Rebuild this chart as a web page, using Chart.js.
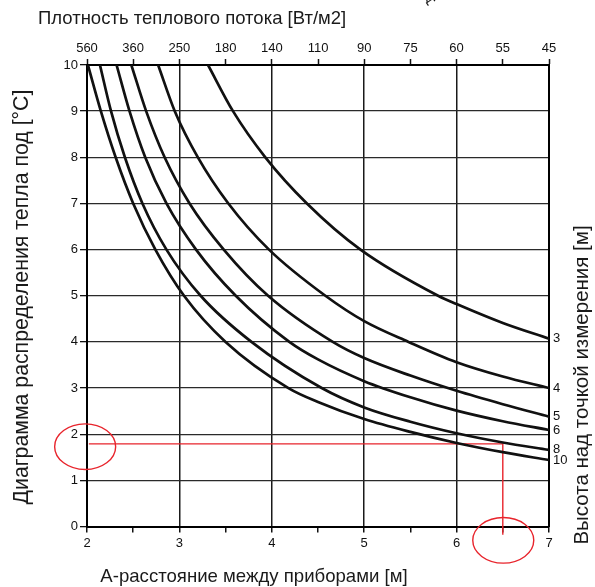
<!DOCTYPE html>
<html>
<head>
<meta charset="utf-8">
<script src="https://cdn.jsdelivr.net/npm/chart.js@4.4.1/dist/chart.umd.min.js"></script>
<style>
html,body{margin:0;padding:0;background:#fff;}
#wrap{width:595px;height:587px;position:relative;}
</style>
</head>
<body>
<div id="wrap"><canvas id="c" width="595" height="587"></canvas></div>
<script>
// ---- data ----
const heightLabels = ['3', '4', '5', '6', '8', '10'];   // height above measuring point [m]
const curve3  = [[3.31,10],[3.58,9],[3.93,8],[4.38,7],[4.96,6],[5.8,5],[6,4.82],[6.5,4.41],[7,4.07]];
const curve4  = [[2.77,10],[2.95,9],[3.20,8],[3.53,7],[3.97,6],[4.58,5],[5,4.45],[5.48,4],[6,3.56],[6.5,3.25],[7,3.00]];
const curve5  = [[2.48,10],[2.64,9],[2.84,8],[3.11,7],[3.48,6],[3.96,5],[4.66,4],[5,3.65],[5.5,3.27],[6,2.94],[6.5,2.65],[7,2.38]];
const curve6  = [[2.32,10],[2.46,9],[2.63,8],[2.86,7],[3.18,6],[3.61,5],[4.19,4],[4.5,3.62],[5,3.15],[5.5,2.80],[6,2.51],[6.5,2.28],[7,2.09]];
const curve8  = [[2.14,10],[2.26,9],[2.41,8],[2.60,7],[2.86,6],[3.23,5],[3.78,4],[4.54,3],[5,2.58],[5.5,2.27],[6,2.02],[6.5,1.82],[7,1.66]];
const curve10 = [[2.01,10],[2.15,9],[2.31,8],[2.50,7],[2.74,6],[3.05,5],[3.50,4],[4.18,3],[4.5,2.70],[5,2.33],[5.5,2.05],[6,1.81],[6.5,1.61],[7,1.44]];
const distanceTicks = [2, 2.5, 3, 3.5, 4, 4.5, 5, 5.5, 6, 6.5, 7];     // A [m]
const fluxLabels = ['560','360','250','180','140','110','90','75','60','55','45']; // W/m2 at the same positions
const readingLine = [[2.02,1.79],[6.5,1.79],[6.5,-0.18]];
const readingMarks = [[1.98,1.73],[6.505,-0.30]];

const curves = [curve3, curve4, curve5, curve6, curve8, curve10];
const endValues = curves.map(c => c[c.length - 1][1]);

Chart.defaults.font.family = "'Liberation Sans', Arial, Helvetica, sans-serif";
Chart.defaults.color = '#111';

const toXY = arr => arr.map(p => ({x: p[0], y: p[1]}));

const datasets = curves.map((c, i) => ({
  label: heightLabels[i],
  data: toXY(c),
  borderColor: '#111',
  borderWidth: 2.7,
  pointRadius: 0,
  fill: false,
  cubicInterpolationMode: 'monotone'
}));
datasets.push({
  label: 'reading',
  data: toXY(readingLine),
  borderColor: '#e8242c',
  borderWidth: 1.4,
  pointRadius: 0,
  tension: 0,
  fill: false,
  clip: false
});

const FONT = "'Liberation Sans', Arial, sans-serif";
const textPlugin = {
  id: 'texts',
  afterDatasetsDraw(chart) {
    const ctx = chart.ctx;
    const xs = chart.scales.x, ys = chart.scales.y;
    ctx.save();
    ctx.strokeStyle = '#e8242c';
    ctx.lineWidth = 1.4;
    readingMarks.forEach(m => {
      ctx.beginPath();
      ctx.ellipse(xs.getPixelForValue(m[0]), ys.getPixelForValue(m[1]), 30.5, 22.8, 0, 0, Math.PI * 2);
      ctx.stroke();
    });
    ctx.restore();
  },
  afterDraw(chart) {
    const ctx = chart.ctx;
    ctx.save();
    ctx.fillStyle = '#1a1a1a';
    ctx.textBaseline = 'middle';
    // top title
    ctx.font = "18.5px " + FONT;
    ctx.textAlign = 'left';
    ctx.fillText('Плотность теплового потока [Вт/м2]', 38, 19);
    // bottom title
    ctx.font = "18.6px " + FONT;
    ctx.textAlign = 'center';
    ctx.fillText('А-расстояние между приборами [м]', 254, 577);
    // left title
    ctx.save();
    ctx.translate(22, 297);
    ctx.rotate(-Math.PI / 2);
    ctx.font = "21.3px " + FONT;
    ctx.textAlign = 'center';
    ctx.fillText('Диаграмма распределения тепла под [°C]', 0, 0);
    ctx.restore();
    // right title
    ctx.save();
    ctx.translate(582, 385);
    ctx.rotate(-Math.PI / 2);
    ctx.font = "20.5px " + FONT;
    ctx.textAlign = 'center';
    ctx.fillText('Высота над точкой измерения [м]', 0, 0);
    ctx.restore();
    // partial glyph at top edge
    ctx.save();
    ctx.translate(428, -2);
    ctx.rotate(-0.6);
    ctx.font = "14px " + FONT;
    ctx.textAlign = 'center';
    ctx.fillText('Д', 0, 0);
    ctx.restore();
    ctx.restore();
  }
};

const halfTicks = scale => { scale.ticks = distanceTicks.map(v => ({value: v})); };

new Chart(document.getElementById('c'), {
  type: 'line',
  data: { datasets },
  options: {
    responsive: false,
    animation: false,
    events: [],
    layout: { padding: 0 },
    plugins: { legend: { display: false }, tooltip: { enabled: false } },
    scales: {
      x: {
        type: 'linear', position: 'bottom', min: 2, max: 7,
        afterBuildTicks: halfTicks,
        afterFit: s => { s.height = 60.5; },
        ticks: {
          autoSkip: false, maxRotation: 0, padding: 3,
          font: { size: 13 }, color: '#111',
          callback: v => Number.isInteger(v) ? String(v) : ''
        },
        grid: {
          color: c => (c.tick && Number.isInteger(c.tick.value)) ? '#1a1a1a' : 'rgba(0,0,0,0)',
          tickColor: '#111', lineWidth: 1.5, tickLength: 6, tickWidth: 1.5
        },
        border: { display: true, color: '#000', width: 2 }
      },
      x2: {
        type: 'linear', position: 'top', min: 2, max: 7,
        afterBuildTicks: halfTicks,
        afterFit: s => { s.height = 65; },
        ticks: {
          autoSkip: false, maxRotation: 0, padding: 3,
          font: { size: 13 }, color: '#111',
          callback: v => fluxLabels[distanceTicks.indexOf(v)]
        },
        grid: { drawOnChartArea: false, tickColor: '#111', tickLength: 6, tickWidth: 1.5 },
        border: { display: true, color: '#000', width: 2 }
      },
      y: {
        type: 'linear', position: 'left', min: 0, max: 10,
        afterFit: s => { s.width = 87; },
        ticks: { stepSize: 1, padding: 2, font: { size: 13 }, color: '#111' },
        grid: { color: '#2a2a2a', lineWidth: 1.3, tickLength: 7, tickColor: '#111' },
        border: { display: true, color: '#000', width: 2 }
      },
      y2: {
        type: 'linear', position: 'right', min: 0, max: 10,
        afterBuildTicks: s => { s.ticks = endValues.map(v => ({value: v})); },
        afterFit: s => { s.width = 46; },
        ticks: {
          autoSkip: false, padding: 4, font: { size: 13 }, color: '#111',
          callback: (v, i) => heightLabels[i]
        },
        grid: { drawOnChartArea: false, drawTicks: false },
        border: { display: true, color: '#000', width: 2 }
      }
    }
  },
  plugins: [textPlugin]
});
</script>
</body>
</html>
